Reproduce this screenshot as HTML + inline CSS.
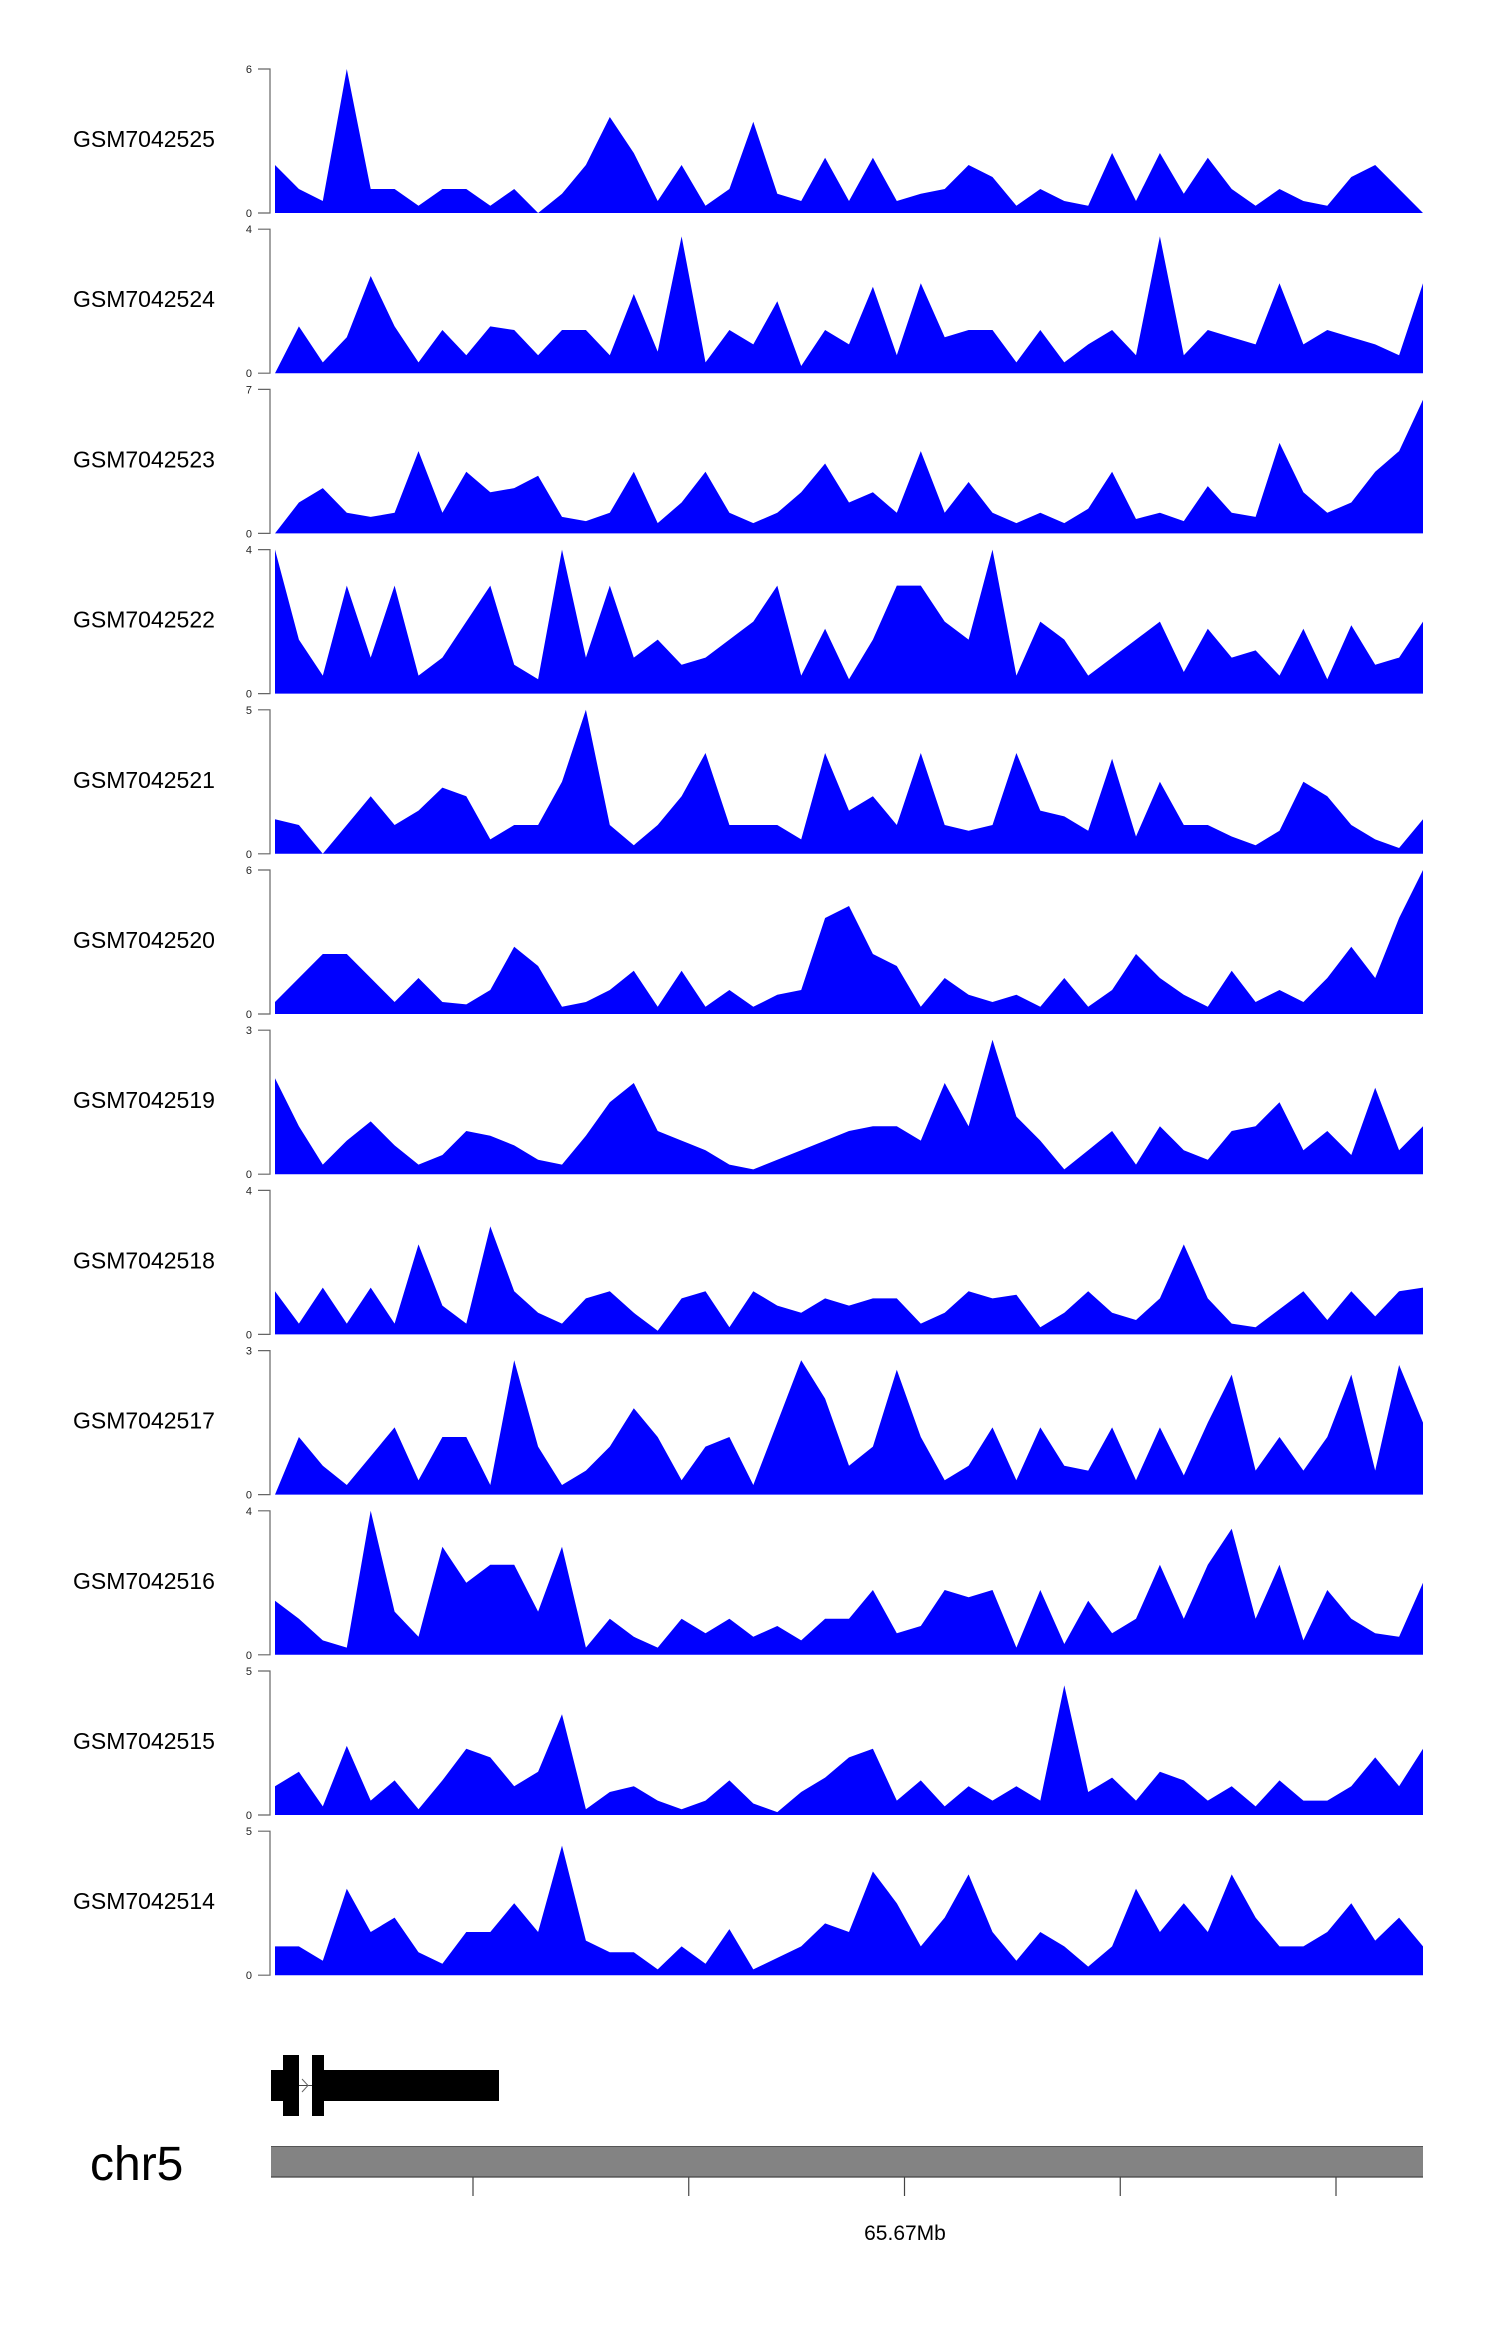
<!DOCTYPE html>
<html><head><meta charset="utf-8"><style>
html,body{margin:0;padding:0;background:#fff;}
svg{display:block;}
text{font-family:"Liberation Sans",sans-serif;}
</style></head><body>
<svg id="chart" width="1500" height="2340" viewBox="0 0 1500 2340" xmlns="http://www.w3.org/2000/svg">
<g id="tracks"></g>
<g>
<rect x="271" y="2070" width="12" height="31" fill="#000"/>
<rect x="283" y="2055" width="16" height="61" fill="#000"/>
<line x1="299" y1="2085.5" x2="312" y2="2085.5" stroke="#444" stroke-width="1"/>
<path d="M302 2079L308 2085.5L302 2092" stroke="#666" stroke-width="1" fill="none"/>
<rect x="312" y="2055" width="12" height="61" fill="#000"/>
<rect x="324" y="2070" width="175" height="31" fill="#000"/>
</g>
<text x="90" y="2180" font-size="48" fill="#000">chr5</text>
<rect x="271" y="2146" width="1152" height="31" fill="#838383"/>
<line x1="271" y1="2146.5" x2="1423" y2="2146.5" stroke="#555" stroke-width="1"/>
<line x1="271" y1="2177" x2="1423" y2="2177" stroke="#444" stroke-width="1.2"/>
<g id="xaxis"></g>
<text x="905" y="2240" font-size="21" text-anchor="middle" fill="#000">65.67Mb</text>
</svg>
<script>
const samples = ["GSM7042525","GSM7042524","GSM7042523","GSM7042522","GSM7042521","GSM7042520","GSM7042519","GSM7042518","GSM7042517","GSM7042516","GSM7042515","GSM7042514"];
const maxTicks = [6,4,7,4,5,6,3,4,3,4,5,5];
const s525 = [2,1,0.5,6,1,1,0.3,1,1,0.3,1,0,0.8,2,4,2.5,0.5,2,0.3,1,3.8,0.8,0.5,2.3,0.5,2.3,0.5,0.8,1,2,1.5,0.3,1,0.5,0.3,2.5,0.5,2.5,0.8,2.3,1,0.3,1,0.5,0.3,1.5,2,1,0];
const s524 = [0,1.3,0.3,1,2.7,1.3,0.3,1.2,0.5,1.3,1.2,0.5,1.2,1.2,0.5,2.2,0.6,3.8,0.3,1.2,0.8,2,0.2,1.2,0.8,2.4,0.5,2.5,1,1.2,1.2,0.3,1.2,0.3,0.8,1.2,0.5,3.8,0.5,1.2,1,0.8,2.5,0.8,1.2,1,0.8,0.5,2.5];
const s523 = [0,1.5,2.2,1,0.8,1,4,1,3,2,2.2,2.8,0.8,0.6,1,3,0.5,1.5,3,1,0.5,1,2,3.4,1.5,2,1,4,1,2.5,1,0.5,1,0.5,1.2,3,0.7,1,0.6,2.3,1,0.8,4.4,2,1,1.5,3,4,6.5];
const s522 = [4,1.5,0.5,3,1,3,0.5,1,2,3,0.8,0.4,4,1,3,1,1.5,0.8,1,1.5,2,3,0.5,1.8,0.4,1.5,3,3,2,1.5,4,0.5,2,1.5,0.5,1,1.5,2,0.6,1.8,1,1.2,0.5,1.8,0.4,1.9,0.8,1,2];
const s521 = [1.2,1,0,1,2,1,1.5,2.3,2,0.5,1,1,2.5,5,1,0.3,1,2,3.5,1,1,1,0.5,3.5,1.5,2,1,3.5,1,0.8,1,3.5,1.5,1.3,0.8,3.3,0.6,2.5,1,1,0.6,0.3,0.8,2.5,2,1,0.5,0.2,1.2];
const s520 = [0.5,1.5,2.5,2.5,1.5,0.5,1.5,0.5,0.4,1,2.8,2,0.3,0.5,1,1.8,0.3,1.8,0.3,1,0.3,0.8,1,4,4.5,2.5,2,0.3,1.5,0.8,0.5,0.8,0.3,1.5,0.3,1,2.5,1.5,0.8,0.3,1.8,0.5,1,0.5,1.5,2.8,1.5,4,6];
const s519 = [2,1,0.2,0.7,1.1,0.6,0.2,0.4,0.9,0.8,0.6,0.3,0.2,0.8,1.5,1.9,0.9,0.7,0.5,0.2,0.1,0.3,0.5,0.7,0.9,1,1,0.7,1.9,1,2.8,1.2,0.7,0.1,0.5,0.9,0.2,1,0.5,0.3,0.9,1,1.5,0.5,0.9,0.4,1.8,0.5,1];
const s518 = [1.2,0.3,1.3,0.3,1.3,0.3,2.5,0.8,0.3,3,1.2,0.6,0.3,1,1.2,0.6,0.1,1,1.2,0.2,1.2,0.8,0.6,1,0.8,1,1,0.3,0.6,1.2,1,1.1,0.2,0.6,1.2,0.6,0.4,1,2.5,1,0.3,0.2,0.7,1.2,0.4,1.2,0.5,1.2,1.3];
const s517 = [0,1.2,0.6,0.2,0.8,1.4,0.3,1.2,1.2,0.2,2.8,1,0.2,0.5,1,1.8,1.2,0.3,1,1.2,0.2,1.5,2.8,2,0.6,1,2.6,1.2,0.3,0.6,1.4,0.3,1.4,0.6,0.5,1.4,0.3,1.4,0.4,1.5,2.5,0.5,1.2,0.5,1.2,2.5,0.5,2.7,1.5];
const s516 = [1.5,1,0.4,0.2,4,1.2,0.5,3,2,2.5,2.5,1.2,3,0.2,1,0.5,0.2,1,0.6,1,0.5,0.8,0.4,1,1,1.8,0.6,0.8,1.8,1.6,1.8,0.2,1.8,0.3,1.5,0.6,1,2.5,1,2.5,3.5,1,2.5,0.4,1.8,1,0.6,0.5,2];
const s515 = [1,1.5,0.3,2.4,0.5,1.2,0.2,1.2,2.3,2,1,1.5,3.5,0.2,0.8,1,0.5,0.2,0.5,1.2,0.4,0.1,0.8,1.3,2,2.3,0.5,1.2,0.3,1,0.5,1,0.5,4.5,0.8,1.3,0.5,1.5,1.2,0.5,1,0.3,1.2,0.5,0.5,1,2,1,2.3];
const s514 = [1,1,0.5,3,1.5,2,0.8,0.4,1.5,1.5,2.5,1.5,4.5,1.2,0.8,0.8,0.2,1,0.4,1.6,0.2,0.6,1,1.8,1.5,3.6,2.5,1,2,3.5,1.5,0.5,1.5,1,0.3,1,3,1.5,2.5,1.5,3.5,2,1,1,1.5,2.5,1.2,2,1];
const series = [s525,s524,s523,s522,s521,s520,s519,s518,s517,s516,s515,s514];
const genomeTicks = ["","","65.67Mb","",""];

const NS = "http://www.w3.org/2000/svg";
const X0 = 275, X1 = 1423, TOP0 = 69, STEP = 160.2, H = 144;
function xScale(i, n){ return X0 + i * (X1 - X0) / (n - 1); }
function yScale(v, max, t){ const base = TOP0 + STEP * t + H; return base - (v / max) * H; }
function mk(tag, attrs){ const e = document.createElementNS(NS, tag); for (const k in attrs) e.setAttribute(k, attrs[k]); return e; }

const g = document.getElementById('tracks');
samples.forEach((name, t) => {
  const top = TOP0 + STEP * t, base = top + H, max = maxTicks[t], vals = series[t];
  const tg = mk('g', {});
  
  
  const lab = mk('text', {x: 73, y: top + 78, 'font-size': 23, fill: '#000'});
  
  
  lab.textContent = name; tg.appendChild(lab);
  const ax = mk('path', {d: `M258 ${top}H270V${base}H258`, stroke: '#666', 'stroke-width': 1.2, fill: 'none'});
  
  
  tg.appendChild(ax);
  [[max, top + 4], [0, base + 4]].forEach(([v, y]) => {
    const tl = mk('text', {x: 252, y: y, 'font-size': 11, 'text-anchor': 'end', fill: '#222'});
    
    
    tl.textContent = v; tg.appendChild(tl);
  });
  let d = `M${xScale(0, vals.length)} ${base}`;
  vals.forEach((v, i) => { d += `L${xScale(i, vals.length).toFixed(1)} ${yScale(v, max, t).toFixed(1)}`; });
  d += `L${xScale(vals.length - 1, vals.length)} ${base}Z`;
  const area = mk('path', {d: d, fill: '#0000ff', stroke: 'none'});
  
  
  tg.appendChild(area);
  g.appendChild(tg);
});

const xa = document.getElementById('xaxis');
genomeTicks.forEach((lbl, i) => {
  const x = 473 + i * 215.75;
  const tk = mk('line', {x1: x, y1: 2177, x2: x, y2: 2196, stroke: '#444', 'stroke-width': 1.2});
  
  
  xa.appendChild(tk);
});
</script>
</body></html>
